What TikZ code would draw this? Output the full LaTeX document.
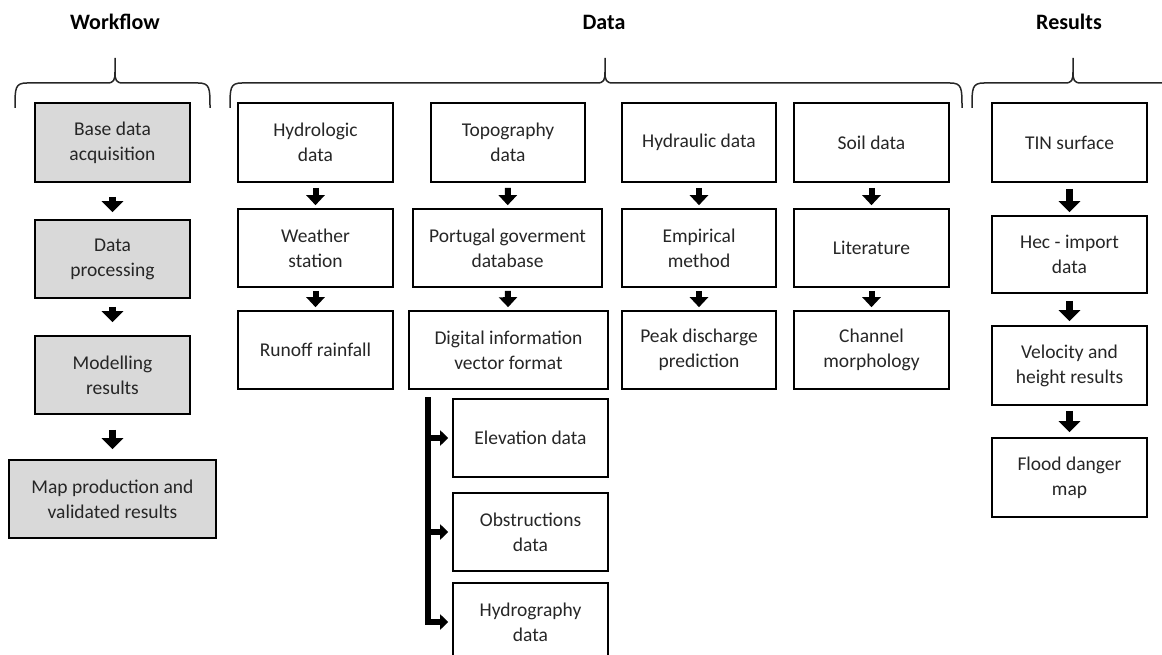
\documentclass[tikz,border=0pt]{standalone}
\usepackage{fontspec}
\setmainfont{Carlito}
\usetikzlibrary{arrows.meta}
\definecolor{boxgray}{RGB}{217,217,217}
\definecolor{txt}{RGB}{38,38,38}
\tikzset{
  box/.style={draw=black, line width=1.6pt, text=txt, align=center,
    inner sep=0pt, font=\fontsize{19.5}{25}\selectfont},
  wbox/.style={box, fill=boxgray},
  title/.style={font=\fontsize{22}{26}\selectfont\bfseries, text=black},
  brace/.style={line width=1.5pt, draw=black!85},
  blk/.style={line width=7pt, -{Triangle[width=21pt,length=11pt]}},
  sblk/.style={line width=6pt, -{Triangle[width=18pt,length=10pt]}},
  bus/.style={line width=6pt, -{Triangle[width=15pt,length=8pt]}, shorten >=4pt},
}
\newcommand{\bx}[6]{% name, style, cx, cy, w, h
  \node[#2, minimum width=#5pt, minimum height=#6pt] (#1) at (#3,#4)}
\newcommand{\mybrace}[3]{% x1, xm, x2
  \draw[brace] (#1,108) .. controls (#1,88) and (#1,83) .. (#1+12,83) -- (#2-8,83)
     .. controls (#2-1,83) and (#2,80) .. (#2,72) -- (#2,58);
  \draw[brace] (#2,72) .. controls (#2,80) and (#2+1,83) .. (#2+8,83) -- (#3-12,83)
     .. controls (#3,83) and (#3,88) .. (#3,108);
}
\begin{document}
\begin{tikzpicture}[x=1pt,y=-1pt]
\useasboundingbox (0,0) rectangle (1162,655);
\clip (0,0) rectangle (1162,655);

% titles
\node[title] (tw) at (115,22) {Workflow};
\node[title] (td) at (604,22) {Data};
\node[title] (tr) at (1069,22) {Results};

% braces
\mybrace{15}{115}{210}
\mybrace{230}{605}{962}
\draw[brace] (972,108) .. controls (972,88) and (972,83) .. (984,83) -- (1065,83)
     .. controls (1072,83) and (1073,80) .. (1073,72) -- (1073,58);
\draw[brace] (1073,72) .. controls (1073,80) and (1074,83) .. (1081,83) -- (1170,83);

% workflow
\bx{w1}{wbox}{112.5}{142.5}{155}{79} {Base data\\acquisition};
\bx{w2}{wbox}{112.5}{259}{155}{78} {Data\\processing};
\bx{w3}{wbox}{112.5}{375}{155}{78} {Modelling\\results};
\bx{w4}{wbox}{112.5}{499}{207}{78} {Map production and\\validated results};
\draw[blk, shorten <=14pt, shorten >=7pt] (w1) -- (w2);
\draw[blk, shorten <=8pt, shorten >=13pt] (w2) -- (w3);
\draw[blk, shorten <=15pt, shorten >=10pt] (w3) -- (w4);

% data col 1
\bx{h1}{box}{315.5}{142.5}{155}{79} {Hydrologic\\data};
\bx{h2}{box}{315.5}{248}{155}{78} {Weather\\station};
\bx{h3}{box}{315.5}{350}{155}{78} {Runoff rainfall};
% col 2
\bx{t1}{box}{508}{142.5}{154}{79} {Topography\\data};
\bx{t2}{box}{507.5}{248}{189}{78} {Portugal goverment\\database};
\bx{t3}{box}{508.5}{350}{199}{78} {Digital information\\vector format};
% col 3
\bx{y1}{box}{699}{142.5}{154}{79} {Hydraulic data};
\bx{y2}{box}{699}{248}{154}{78} {Empirical\\method};
\bx{y3}{box}{699}{350}{154}{78} {Peak discharge\\prediction};
% col 4
\bx{s1}{box}{871.5}{142.5}{155}{79} {Soil data};
\bx{s2}{box}{871.5}{248}{155}{78} {Literature};
\bx{s3}{box}{871.5}{350}{155}{78} {Channel\\morphology};

\foreach \c in {h,t,y,s}{
  \draw[sblk, shorten <=5pt, shorten >=3pt] (\c1) -- (\c2);
  \draw[sblk, shorten <=3pt, shorten >=3pt] (\c2) -- (\c3);
}

% sub boxes
\bx{el}{box}{530.5}{438}{155}{78} {Elevation data};
\bx{ob}{box}{530.5}{532}{155}{78} {Obstructions\\data};
\bx{hy}{box}{530.5}{622}{155}{78} {Hydrography\\data};
\coordinate (bustop) at (428,397);
\draw[bus] (bustop) |- (el);
\draw[bus] (bustop) |- (ob);
\draw[bus] (bustop) |- (hy);

% results
\bx{r1}{box}{1069.5}{142.5}{155}{79} {TIN surface};
\bx{r2}{box}{1069.5}{254.5}{155}{77} {Hec - import\\data};
\bx{r3}{box}{1069.5}{365.5}{155}{79} {Velocity and\\height results};
\bx{r4}{box}{1069.5}{477.5}{155}{79} {Flood danger\\map};
\draw[blk, shorten <=6pt, shorten >=3pt] (r1) -- (r2);
\draw[blk, shorten <=7pt, shorten >=4pt] (r2) -- (r3);
\draw[blk, shorten <=5pt, shorten >=5pt] (r3) -- (r4);
\end{tikzpicture}
\end{document}
